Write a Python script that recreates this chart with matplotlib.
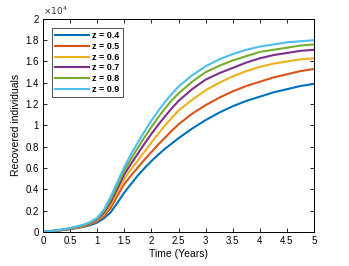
import matplotlib
matplotlib.use('Agg')
import matplotlib.pyplot as plt

# time grid (years) and recovered individuals (x 10^4)
t = [0, 0.25, 0.5, 0.75, 0.875, 1.0, 1.125, 1.25, 1.375, 1.5, 1.625, 1.75,
     1.875, 2.0, 2.125, 2.25, 2.375, 2.5, 2.75, 3.0, 3.25, 3.5, 3.75, 4.0,
     4.25, 4.5, 4.75, 5.0]

r_04 = [0, 0.010, 0.025, 0.048, 0.064, 0.088, 0.128, 0.185, 0.275, 0.37, 0.45, 0.53,
        0.60, 0.665, 0.725, 0.78, 0.83, 0.88, 0.97, 1.05, 1.12, 1.18, 1.23, 1.27,
        1.31, 1.34, 1.37, 1.39]
r_05 = [0, 0.012, 0.028, 0.053, 0.072, 0.100, 0.150, 0.225, 0.34, 0.45, 0.53, 0.605,
        0.68, 0.75, 0.82, 0.885, 0.95, 1.01, 1.11, 1.19, 1.26, 1.32, 1.37, 1.41,
        1.45, 1.48, 1.51, 1.53]
r_06 = [0, 0.013, 0.030, 0.057, 0.078, 0.110, 0.166, 0.255, 0.38, 0.50, 0.59, 0.67,
        0.755, 0.84, 0.92, 1.00, 1.07, 1.14, 1.24, 1.33, 1.40, 1.46, 1.51, 1.55,
        1.58, 1.60, 1.62, 1.63]
r_07 = [0, 0.014, 0.032, 0.061, 0.083, 0.118, 0.180, 0.28, 0.41, 0.54, 0.64, 0.735,
        0.83, 0.92, 1.005, 1.085, 1.16, 1.23, 1.34, 1.43, 1.49, 1.54, 1.59, 1.63,
        1.66, 1.68, 1.70, 1.71]
r_08 = [0, 0.015, 0.034, 0.064, 0.088, 0.125, 0.195, 0.305, 0.44, 0.575, 0.685, 0.79,
        0.89, 0.985, 1.075, 1.16, 1.235, 1.30, 1.41, 1.50, 1.56, 1.61, 1.65, 1.69,
        1.71, 1.73, 1.75, 1.76]
r_09 = [0, 0.016, 0.036, 0.068, 0.093, 0.132, 0.210, 0.33, 0.47, 0.61, 0.73, 0.84,
        0.945, 1.045, 1.135, 1.22, 1.295, 1.365, 1.47, 1.555, 1.62, 1.67, 1.71, 1.74,
        1.76, 1.78, 1.79, 1.80]

series = [r_04, r_05, r_06, r_07, r_08, r_09]
labels = ['z = 0.4', 'z = 0.5', 'z = 0.6', 'z = 0.7', 'z = 0.8', 'z = 0.9']
colors = ['#0072BD', '#D95319', '#EDB120', '#7E2F8E', '#77AC30', '#4DBEEE']

xticks = [0, 0.5, 1, 1.5, 2, 2.5, 3, 3.5, 4, 4.5, 5]
xticklabels = ['0', '0.5', '1', '1.5', '2', '2.5', '3', '3.5', '4', '4.5', '5']
yticks = [0, 0.2, 0.4, 0.6, 0.8, 1.0, 1.2, 1.4, 1.6, 1.8, 2.0]
yticklabels = ['0', '0.2', '0.4', '0.6', '0.8', '1', '1.2', '1.4', '1.6', '1.8', '2']

plt.rcParams['font.family'] = ['Liberation Sans', 'DejaVu Sans']

fig = plt.figure(figsize=(3.49, 2.66), dpi=100)
ax = fig.add_axes([0.123, 0.128, 0.777, 0.801])

for y, lab, c in zip(series, labels, colors):
    ax.plot(t, y, color=c, linewidth=1.5, label=lab)

ax.set_xlim(0, 5)
ax.set_ylim(0, 2)
ax.set_xticks(xticks)
ax.set_xticklabels(xticklabels)
ax.set_yticks(yticks)
ax.set_yticklabels(yticklabels)
ax.tick_params(direction='in', length=3, width=0.6, top=True, right=True,
               labelsize=7, pad=3)
for s in ax.spines.values():
    s.set_linewidth(0.7)

ax.text(0.0, 1.01, r'$\times10^4$', transform=ax.transAxes, fontsize=6.5,
        ha='left', va='bottom', color='#333333')

ax.set_xlabel('Time (Years)', fontsize=7.5, labelpad=2)
ax.set_ylabel('Recovered individuals', fontsize=7.5, labelpad=3)

leg = ax.legend(loc='upper left', handlelength=3.8,
                borderaxespad=1.0, labelspacing=0.2, handletextpad=0.3,
                borderpad=0.35, fancybox=False, framealpha=1,
                prop={'weight': 'bold', 'size': 6.5})
leg.get_frame().set_edgecolor('#333333')
leg.get_frame().set_linewidth(0.6)

fig.savefig('out.png', dpi=100)
